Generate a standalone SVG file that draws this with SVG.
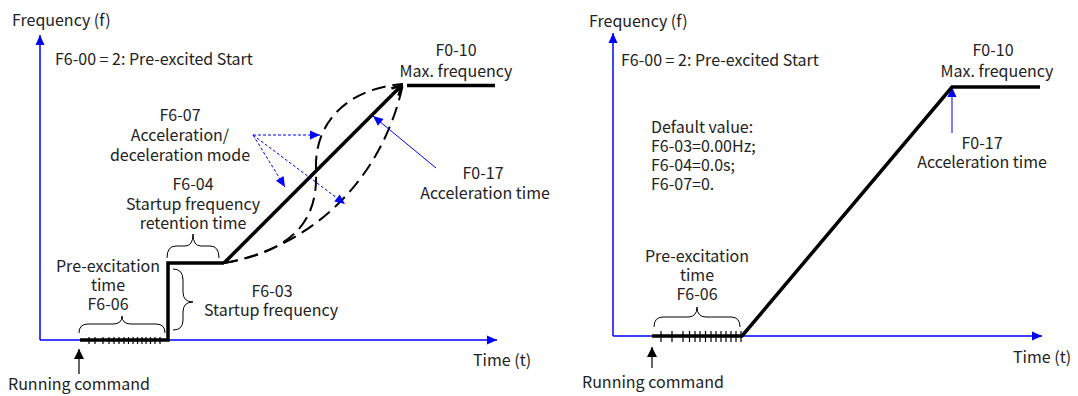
<svg xmlns="http://www.w3.org/2000/svg" width="1078" height="396" viewBox="0 0 1078 396">
<style>
text{font-family:"Noto Sans CJK SC","Noto Sans",sans-serif;font-size:16px;fill:#222}
.m{text-anchor:middle}
.ax{stroke:#0000ff;stroke-width:1.5;fill:none}
.thick{stroke:#000;stroke-width:3.5;fill:none}
.tick{stroke:#000;stroke-width:1.2}
.dash{stroke:#000;stroke-width:2;fill:none;stroke-dasharray:14 7}
.bd{stroke:#0000ff;stroke-width:1;stroke-dasharray:3 2;fill:none}
.bl{stroke:#0000ff;stroke-width:1;fill:none}
.br{stroke:#000;stroke-width:1;fill:none}
</style>
<defs>
<marker id="ab" viewBox="0 0 10 10" refX="10" refY="5" markerWidth="11" markerHeight="10" orient="auto" markerUnits="userSpaceOnUse"><path d="M0,0.5 L10,5 L0,9.5 z" fill="#0000ff"/></marker>
<marker id="as" viewBox="0 0 10 10" refX="10" refY="5" markerWidth="11" markerHeight="10" orient="auto" markerUnits="userSpaceOnUse"><path d="M0,0.5 L10,5 L0,9.5 z" fill="#0000ff"/></marker>
<marker id="ak" viewBox="0 0 10 10" refX="10" refY="5" markerWidth="10" markerHeight="10" orient="auto" markerUnits="userSpaceOnUse"><path d="M0,0 L10,5 L0,10 z" fill="#000"/></marker>
<marker id="ao" viewBox="0 0 12 12" refX="11" refY="6" markerWidth="12" markerHeight="12" orient="auto" markerUnits="userSpaceOnUse"><path d="M1,1 L11,6 L1,11" fill="none" stroke="#000" stroke-width="2.5"/></marker>
</defs>

<g id="left-axes">
<line class="ax" x1="40" y1="340" x2="40" y2="35" marker-end="url(#ab)"/>
<line class="ax" x1="40" y1="340" x2="497" y2="340" marker-end="url(#ab)"/>
<text x="12" y="26">Frequency (f)</text>
<text x="473" y="366">Time (t)</text>
</g>
<g id="left-title"><text x="55" y="65">F6-00 = 2: Pre-excited Start</text></g>

<g id="left-curve">
<polyline class="thick" points="80,340 168,340 168,263 224,263"/>
<line class="thick" x1="224" y1="263" x2="402" y2="85" marker-end="url(#ao)"/>
<line class="thick" x1="407" y1="85.5" x2="495" y2="85.5"/>
<g class="tick">
<line x1="89" y1="337" x2="89" y2="344"/><line x1="95" y1="337" x2="95" y2="344"/><line x1="103" y1="337" x2="103" y2="344"/><line x1="109" y1="337" x2="109" y2="344"/><line x1="114" y1="337" x2="114" y2="344"/><line x1="119" y1="337" x2="119" y2="344"/><line x1="124" y1="337" x2="124" y2="344"/><line x1="128.5" y1="337" x2="128.5" y2="344"/><line x1="133" y1="337" x2="133" y2="344"/><line x1="137.5" y1="337" x2="137.5" y2="344"/><line x1="142" y1="337" x2="142" y2="344"/><line x1="146" y1="337" x2="146" y2="344"/><line x1="150.5" y1="337" x2="150.5" y2="344"/><line x1="155" y1="337" x2="155" y2="344"/><line x1="160" y1="337" x2="160" y2="344"/>
</g>
<path class="dash" d="M224,263 C300,250 318,215 316,170 C314,120 350,88 403,84"/>
<path class="dash" d="M224,263 C300,250 380,190 403,84"/>
</g>

<g id="left-maxfreq">
<text class="m" x="456" y="56">F0-10<tspan x="456" dy="21">Max. frequency</tspan></text>
</g>

<g id="left-accmode">
<text class="m" x="180" y="121">F6-07<tspan x="180" dy="20">Acceleration/</tspan><tspan x="180" dy="20">deceleration mode</tspan></text>
</g>

<g id="left-f604">
<text class="m" x="193" y="190">F6-04<tspan x="193" dy="19.5">Startup frequency</tspan><tspan x="193" dy="19.5">retention time</tspan></text>
<path class="br" d="M167,258 Q167,246 176,246 L185,246 Q193,246 193,234 Q193,246 201,246 L210,246 Q219,246 219,258"/>
</g>

<g id="left-f603">
<text class="m" x="272" y="297">F6-03<tspan x="271" dy="19">Startup frequency</tspan></text>
<path class="br" d="M173,269 Q183,269 183,280 L183,292 Q183,302 193,302 Q183,302 183,312 L183,320 Q183,330 173,330"/>
</g>

<g id="left-preexc">
<text class="m" x="108" y="272">Pre-excitation<tspan x="108" dy="19">time</tspan><tspan x="108" dy="19">F6-06</tspan></text>
<path class="br" d="M79,333 Q79,324 88,324 L113,324 Q122,324 122,316 Q122,324 131,324 L156,324 Q165,324 165,333"/>
</g>

<g id="left-acctime">
<text class="m" x="483" y="179">F0-17<tspan x="485" dy="20">Acceleration time</tspan></text>
</g>

<g id="left-run">
<text x="8" y="390">Running command</text>
</g>

<g id="connectors">
<line class="bd" x1="253" y1="135" x2="320" y2="135" marker-end="url(#as)"/>
<line class="bd" x1="253" y1="135" x2="285" y2="187" marker-end="url(#as)"/>
<line class="bd" x1="253" y1="135" x2="345" y2="204" marker-end="url(#as)"/>
<line class="bl" x1="436" y1="168" x2="373" y2="116" marker-end="url(#ab)"/>
<line stroke="#000" stroke-width="1.2" x1="79" y1="374" x2="79" y2="349" marker-end="url(#ak)"/>
<line class="bl" x1="952" y1="133" x2="952" y2="87" marker-end="url(#as)"/>
<line stroke="#000" stroke-width="1.2" x1="652" y1="368" x2="652" y2="347" marker-end="url(#ak)"/>
</g>

<g id="right-axes">
<line class="ax" x1="613" y1="336" x2="613" y2="33" marker-end="url(#ab)"/>
<line class="ax" x1="613" y1="336" x2="1042" y2="336" marker-end="url(#ab)"/>
<text x="589" y="27">Frequency (f)</text>
<text x="1013" y="363">Time (t)</text>
</g>
<g id="right-title"><text x="621" y="66">F6-00 = 2: Pre-excited Start</text></g>

<g id="right-curve">
<polyline class="thick" points="652,336 742,336 952,87 1040,87"/>
<g class="tick">
<line x1="661" y1="331" x2="661" y2="342"/><line x1="672" y1="331" x2="672" y2="342"/><line x1="683" y1="331" x2="683" y2="342"/><line x1="689.5" y1="331" x2="689.5" y2="342"/><line x1="695" y1="331" x2="695" y2="342"/><line x1="700" y1="331" x2="700" y2="342"/><line x1="705.5" y1="331" x2="705.5" y2="342"/><line x1="711" y1="331" x2="711" y2="342"/><line x1="716" y1="331" x2="716" y2="342"/><line x1="721" y1="331" x2="721" y2="342"/><line x1="726" y1="331" x2="726" y2="342"/><line x1="731" y1="331" x2="731" y2="342"/><line x1="736" y1="331" x2="736" y2="342"/><line x1="741" y1="331" x2="741" y2="342"/>
</g>
</g>

<g id="right-maxfreq">
<text class="m" x="993" y="56">F0-10<tspan x="997" dy="21">Max. frequency</tspan></text>
</g>

<g id="right-defaults">
<text x="651" y="133">Default value:<tspan x="651" dy="19">F6-03=0.00Hz;</tspan><tspan x="651" dy="19">F6-04=0.0s;</tspan><tspan x="651" dy="19">F6-07=0.</tspan></text>
</g>

<g id="right-acctime">
<text class="m" x="982" y="149">F0-17<tspan x="982" dy="19">Acceleration time</tspan></text>
</g>

<g id="right-preexc">
<text class="m" x="697" y="262">Pre-excitation<tspan x="697" dy="19">time</tspan><tspan x="697" dy="19">F6-06</tspan></text>
<path class="br" d="M654,327 Q654,317 663,317 L688,317 Q697,317 697,307 Q697,317 706,317 L731,317 Q740,317 740,327"/>
</g>

<g id="right-run">
<text x="582" y="388">Running command</text>
</g>
</svg>
